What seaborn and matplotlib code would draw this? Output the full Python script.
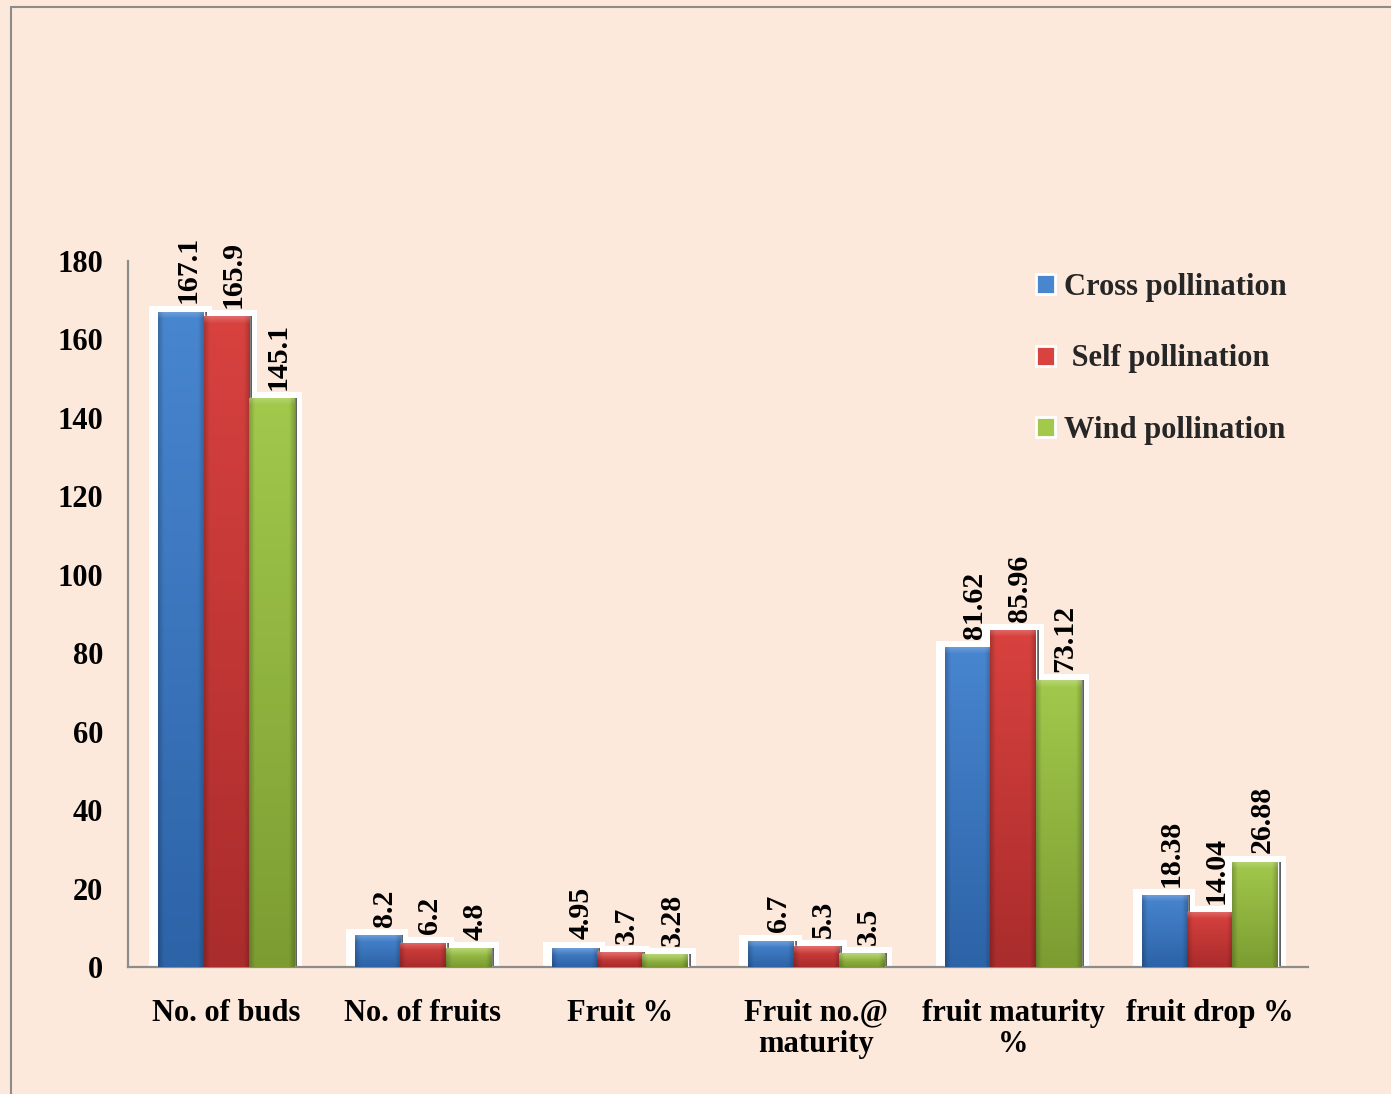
import numpy as np
import pandas as pd
import matplotlib
matplotlib.use("Agg")
import matplotlib.pyplot as plt
from matplotlib.patches import Rectangle, Patch
from matplotlib.lines import Line2D
from matplotlib.colors import to_rgb
import seaborn as sns

# ---- data -------------------------------------------------------------
categories = ["No. of buds", "No. of fruits", "Fruit %", "Fruit no.@\nmaturity",
              "fruit maturity\n%", "fruit drop %"]
series = ["Cross pollination", "Self pollination", "Wind pollination"]
legend_labels = ["Cross pollination", " Self pollination", "Wind pollination"]
cross = [167.1, 8.2, 4.95, 6.7, 81.62, 18.38]
self_ = [165.9, 6.2, 3.7, 5.3, 85.96, 14.04]
wind = [145.1, 4.8, 3.28, 3.5, 73.12, 26.88]
label_text = {
    "Cross pollination": ["167.1", "8.2", "4.95", "6.7", "81.62", "18.38"],
    "Self pollination": ["165.9", "6.2", "3.7", "5.3", "85.96", "14.04"],
    "Wind pollination": ["145.1", "4.8", "3.28", "3.5", "73.12", "26.88"],
}
yticks = [0, 20, 40, 60, 80, 100, 120, 140, 160, 180]

# colour ramps: (top, bottom) for each series
ramps = {
    "Cross pollination": ("#4886D0", "#2D63A7"),
    "Self pollination": ("#D8423F", "#AA2C2C"),
    "Wind pollination": ("#A2C94C", "#7C9C32"),
}
palette = {k: v[0] for k, v in ramps.items()}

df = pd.DataFrame({
    "category": categories * 3,
    "series": [series[0]] * 6 + [series[1]] * 6 + [series[2]] * 6,
    "value": cross + self_ + wind,
})

# ---- figure -----------------------------------------------------------
BG = "#FCE9DB"
GRID = "#8C8C8C"
W, H, DPI = 1391, 1094, 100
FS = 22
sns.set_theme(style="white")
plt.rcParams["font.family"] = ["Liberation Serif", "DejaVu Serif"]
plt.rcParams["font.weight"] = "bold"

fig = plt.figure(figsize=(W / DPI, H / DPI), dpi=DPI, facecolor=BG)
ax = fig.add_axes([128 / W, 1 - 967 / H, (1308 - 128) / W, (967 - 261) / H])
ax.set_facecolor(BG)

sns.barplot(data=df, x="category", y="value", hue="series", hue_order=series,
            order=categories, palette=palette, width=0.69, saturation=1,
            legend=False, ax=ax, zorder=3)

ax.set_xlim(-0.5, len(categories) - 0.5)
ax.set_ylim(0, 180)
ax.set_yticks(yticks)
ax.set_xlabel("")
ax.set_ylabel("")

for s in ["top", "right"]:
    ax.spines[s].set_visible(False)
for s in ["left", "bottom"]:
    ax.spines[s].set_color(GRID)
    ax.spines[s].set_linewidth(1.6)

ax.tick_params(axis="y", direction="out", length=5, width=1.4, color=GRID,
               pad=13, labelsize=FS)
ax.tick_params(axis="x", length=0, pad=23, labelsize=FS)
for t in ax.get_yticklabels() + ax.get_xticklabels():
    t.set_fontweight("bold")
    t.set_color("black")
for t in ax.get_xticklabels():
    t.set_linespacing(1.1)

# pixel -> data scale factors
px_x = (ax.get_xlim()[1] - ax.get_xlim()[0]) / (1308 - 128)
px_y = (ax.get_ylim()[1] - ax.get_ylim()[0]) / (967 - 261)


def shaded_image(top, bottom, h_px, n_x=40):
    n_y = max(int(h_px), 8)
    t = np.array(to_rgb(top))
    b = np.array(to_rgb(bottom))
    v = np.linspace(0, 1, n_y)[:, None, None]          # 0 = top row
    img = t * (1 - v) + b * v
    u = np.linspace(0, 1, n_x)[None, :, None]
    edge = np.clip(np.minimum(u, 1 - u) / 0.12, 0, 1)
    img = img * (0.80 + 0.20 * edge)
    # soft bevel along the top edge
    rows = np.arange(n_y)[:, None, None]
    glow = np.clip(1 - rows / 7.0, 0, 1) * 0.22
    img = img * (1 - glow) + glow
    return np.clip(img, 0, 1)


patches = [p for p in ax.patches if p.get_height() > 0]
# frames first so neighbouring bars stay fully visible
for p in patches:
    x0, w, h = p.get_x(), p.get_width(), p.get_height()
    ax.add_patch(Rectangle((x0 - 9 * px_x, 0), w + 17 * px_x, h + 6 * px_y,
                           facecolor="white", edgecolor="none", zorder=1,
                           clip_on=False))
    ax.add_patch(Rectangle((x0 + w + 1 * px_x, 0), 2 * px_x, h,
                           facecolor="#3A3A3A", edgecolor="none", zorder=1.5,
                           alpha=0.8, clip_on=False))

for i, name in enumerate(series):
    top, bottom = ramps[name]
    for j in range(len(categories)):
        p = ax.patches[i * len(categories) + j]
        x0, w, h = p.get_x(), p.get_width(), p.get_height()
        img = shaded_image(top, bottom, h_px=h / px_y)
        im = ax.imshow(img, extent=(x0, x0 + w, 0, h), aspect="auto",
                       zorder=3.5, interpolation="bilinear", origin="upper")
        im.set_clip_path(p)
        ax.annotate(label_text[name][j], xy=(x0 + w / 2, h),
                    xytext=(5, 6), textcoords="offset points",
                    rotation=90, ha="center", va="bottom",
                    fontsize=21.5, fontweight="bold", color="black", zorder=5)

ax.set_xlim(-0.5, len(categories) - 0.5)
ax.set_ylim(0, 180)

# legend
handles = [Patch(facecolor=ramps[s][0], edgecolor="white", linewidth=2)
           for s in series]
leg = ax.legend(handles, legend_labels, loc="upper left",
                bbox_to_anchor=(1036 / W, 1 - 273 / H),
                bbox_transform=fig.transFigure, frameon=False,
                prop={"family": "Liberation Serif", "weight": "bold",
                      "size": FS},
                handlelength=0.62, handleheight=0.62, handletextpad=0.3,
                labelspacing=1.39, borderpad=0, borderaxespad=0)

# outer border of the chart area
fig.add_artist(Line2D([10.5 / W, 10.5 / W], [0, 1 - 7 / H],
                      transform=fig.transFigure, color=GRID, linewidth=1.5))
fig.add_artist(Line2D([10.5 / W, 1.0], [1 - 7 / H, 1 - 7 / H],
                      transform=fig.transFigure, color=GRID, linewidth=1.5))

fig.savefig("out.png", dpi=DPI, facecolor=BG)
